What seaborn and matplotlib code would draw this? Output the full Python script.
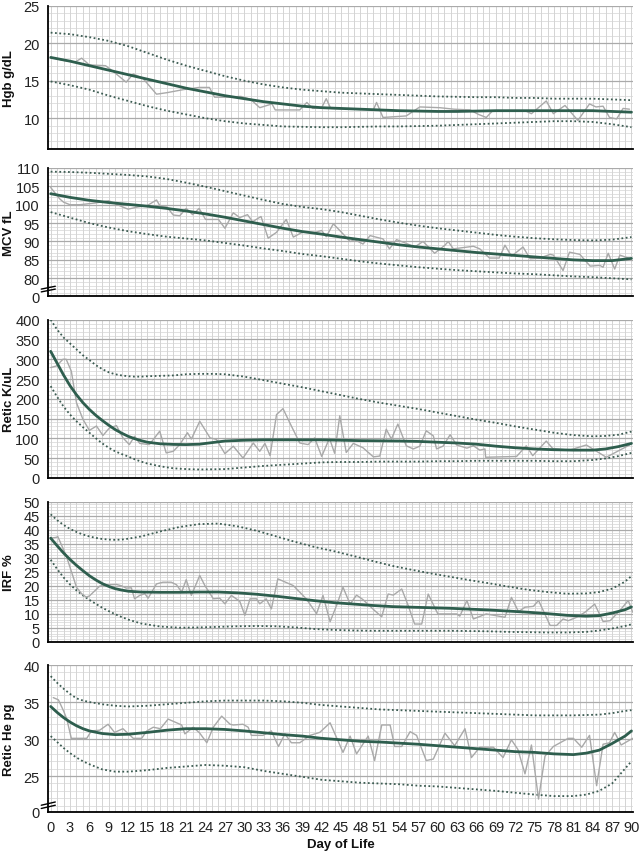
import matplotlib
matplotlib.use("Agg")
import matplotlib.pyplot as plt
import seaborn as sns
from matplotlib.ticker import MultipleLocator

sns.set_style("white")
plt.rcParams['font.family'] = ['Liberation Sans', 'DejaVu Sans']

# ---- Hgb g/dL ----
hgb_fit_days = [0, 3, 6, 9, 12, 15, 18, 21, 24, 27, 30, 33, 36, 39, 42, 45, 48, 51, 54, 57, 60, 63, 66, 69, 72, 75, 78, 81, 84, 87, 90]
hgb_mean = [18.1, 17.6, 17.0, 16.4, 15.8, 15.2, 14.6, 14.0, 13.5, 13.0, 12.6, 12.2, 11.9, 11.6, 11.4, 11.3, 11.2, 11.1, 11.0, 10.95, 10.9, 10.9, 10.95, 11.0, 11.0, 11.0, 11.0, 11.0, 11.0, 10.9, 10.8]
hgb_upper = [21.4, 21.2, 20.8, 20.3, 19.6, 18.7, 17.8, 17.0, 16.3, 15.6, 15.0, 14.5, 14.1, 13.8, 13.6, 13.4, 13.3, 13.2, 13.1, 13.0, 12.9, 12.85, 12.8, 12.8, 12.7, 12.7, 12.6, 12.6, 12.6, 12.5, 12.4]
hgb_lower = [14.9, 14.4, 13.8, 13.0, 12.3, 11.6, 11.0, 10.5, 10.0, 9.6, 9.3, 9.1, 8.9, 8.85, 8.8, 8.8, 8.85, 8.9, 8.9, 8.95, 9.0, 9.1, 9.2, 9.3, 9.4, 9.5, 9.6, 9.6, 9.5, 9.2, 8.8]
hgb_raw_days = [0, 2, 3.8, 4.8, 6, 8.5, 9.6, 11.7, 12.8, 14.3, 16.4, 18, 20.5, 23, 24.6, 25.4, 27, 29.5, 31, 32.4, 34.3, 34.8, 37, 38.6, 39.7, 40.6, 42, 42.7, 43.4, 50, 50.5, 51.5, 55.1, 57.2, 60.3, 62.5, 65, 66.3, 67.5, 68.5, 73.5, 74.5, 76.8, 77.9, 79.7, 81.7, 83.5, 84.5, 85.6, 86.6, 87.7, 88.7, 89.7]
hgb_raw = [18.1, 17.7, 17.5, 18.0, 17.1, 17.0, 16.3, 14.8, 15.9, 15.3, 13.2, 13.4, 13.8, 14.1, 14.1, 12.8, 12.8, 12.9, 12.5, 11.4, 11.9, 11.1, 11.1, 11.1, 12.1, 11.3, 11.4, 12.6, 11.3, 11.1, 12.1, 10.1, 10.3, 11.5, 11.4, 11.2, 11.1, 10.5, 10.1, 11.0, 11.0, 10.6, 12.3, 10.6, 11.7, 9.7, 11.9, 11.5, 11.6, 10.1, 9.9, 11.3, 11.2]

# ---- MCV fL ----
mcv_fit_days = hgb_fit_days
mcv_mean = [103.0, 102.0, 101.2, 100.6, 100.1, 99.6, 99.0, 98.3, 97.5, 96.6, 95.6, 94.6, 93.6, 92.7, 92.0, 91.2, 90.5, 89.8, 89.1, 88.5, 88.0, 87.5, 87.0, 86.6, 86.2, 85.8, 85.4, 85.0, 84.8, 84.8, 85.4]
mcv_upper = [109.0, 108.9, 108.7, 108.4, 108.1, 107.7, 107.0, 106.0, 104.9, 103.7, 102.5, 101.3, 100.2, 99.4, 98.8, 98.0, 97.0, 96.0, 95.1, 94.3, 93.6, 93.0, 92.4, 91.8, 91.3, 90.9, 90.6, 90.4, 90.3, 90.5, 91.2]
mcv_lower = [98.0, 96.5, 95.0, 93.8, 92.8, 92.0, 91.3, 90.8, 90.3, 89.6, 88.9, 88.1, 87.4, 86.6, 86.0, 85.3, 84.6, 84.0, 83.5, 83.0, 82.6, 82.2, 81.9, 81.6, 81.3, 81.1, 80.8, 80.5, 80.3, 80.0, 79.7]
mcv_raw_days = [0, 1.4, 2, 3, 4.5, 7, 9, 11, 12, 13.5, 15, 16.4, 17, 18, 19, 20, 21, 22, 23, 24, 26, 27, 28.3, 29.3, 30.5, 31.3, 32.6, 33.7, 35, 36.5, 37.6, 39, 41, 42, 42.7, 43.8, 44.8, 46.4, 47.1, 48.4, 49.5, 51.5, 52.5, 53.6, 55.1, 56.4, 57.7, 59.5, 61.1, 61.6, 62.4, 65.5, 66.5, 68, 69.5, 70.4, 71.4, 73.2, 74.3, 75.8, 77.4, 77.9, 79.4, 80.4, 82, 83.6, 85.1, 85.6, 86.4, 87.4, 88.2, 89.5]
mcv_raw = [104.7, 101.6, 100.7, 100.0, 100.0, 100.5, 101.1, 99.5, 98.8, 99.4, 99.8, 101.3, 99.5, 99.4, 97.2, 97.0, 99.0, 97.3, 99.0, 96.0, 96.0, 93.6, 97.8, 96.5, 97.3, 95.4, 96.8, 90.9, 92.5, 96.0, 91.2, 92.5, 92.5, 93.0, 91.3, 94.8, 93.0, 90.0, 90.5, 89.3, 91.6, 90.7, 88.0, 90.5, 89.5, 88.5, 90.0, 86.8, 89.0, 90.0, 88.0, 88.7, 88.0, 85.5, 85.5, 89.0, 86.0, 88.5, 85.3, 85.5, 86.5, 86.3, 82.1, 87.1, 86.5, 83.3, 83.5, 83.0, 86.8, 82.5, 86.3, 85.5]

# ---- Retic K/uL ----
ret_fit_days = [0, 1, 2, 3, 4, 5, 6, 7, 8, 9, 10, 11, 12, 13, 14, 15, 17, 19, 21, 23, 25, 27, 30, 33, 36, 39, 42, 45, 48, 51, 54, 57, 60, 63, 66, 69, 72, 75, 78, 81, 84, 86, 88, 90]
ret_mean = [320, 290, 260, 233, 210, 190, 173, 158, 145, 133, 122, 113, 105, 99, 94, 90, 86, 84.5, 84, 85, 89, 93, 95, 96, 96, 96, 96, 95, 94, 93.5, 93, 92, 90, 88, 85, 80, 76, 73, 71, 70, 70, 73, 79, 87]
ret_upper = [400, 375, 355, 340, 325, 310, 298, 285, 275, 267, 262, 259, 257, 256, 256, 257, 258, 259, 262, 263, 263, 262, 256, 247, 238, 229, 219, 209, 199, 190, 182, 174, 165, 156, 147, 139, 130, 122, 114, 108, 105, 106, 109, 117]
ret_lower = [232, 205, 180, 160, 143, 128, 114, 100, 87, 76, 67, 60, 54, 47, 41, 36, 29, 24, 22, 21, 21.5, 22, 26, 30, 33, 36, 39, 40, 40, 41, 41, 41, 42, 42, 43, 43, 43, 43, 42, 42, 45, 49, 55, 63]
ret_raw_days = [0, 0.9, 1.9, 2.4, 3.2, 4, 5, 6, 7.1, 8.1, 9.1, 10.2, 11.2, 12.2, 13, 13.8, 15.3, 16.9, 17.9, 19, 20, 21.2, 21.8, 23.1, 24.7, 25.7, 27, 28.3, 29.8, 31.4, 32.4, 33.2, 34, 35, 36, 37.3, 38.6, 39.9, 40.9, 42, 43.2, 44, 44.8, 45.8, 46.9, 48.4, 50, 51, 52, 52.8, 53.8, 55.1, 56.2, 57.2, 58.2, 59.3, 59.8, 60.8, 61.9, 62.9, 64.5, 65.5, 66.5, 67.3, 67.4, 72.2, 73.7, 74.7, 76.8, 77.8, 80.4, 83, 86.1, 89.7]
ret_raw = [279, 283, 300, 300, 270, 190, 148, 120, 131, 107, 126, 132, 101, 84, 105, 87, 84, 118, 63, 67, 84, 114, 98, 143, 101, 97, 61, 80, 50, 88, 67, 87, 56, 160, 175, 131, 88, 84, 101, 54, 100, 62, 157, 64, 87, 76, 53, 55, 123, 98, 136, 81, 73, 80, 119, 106, 73, 80, 109, 83, 75, 81, 70, 73, 52, 54, 81, 56, 93, 74, 70, 83, 52, 83]

# ---- IRF % ----
irf_fit_days = [0, 1, 2, 3, 4, 5, 6, 7, 8, 9, 10, 11, 12, 14, 17, 20, 23, 26, 29, 32, 35, 38, 41, 44, 47, 50, 53, 56, 59, 62, 65, 68, 71, 74, 77, 80, 83, 85, 87, 89, 90]
irf_mean = [37, 34.3, 31.7, 29.4, 27.3, 25.4, 23.6, 22.1, 20.8, 19.8, 19.0, 18.5, 18.1, 17.8, 17.7, 17.7, 17.8, 17.8, 17.5, 17.0, 16.3, 15.5, 14.7, 14.0, 13.5, 13.0, 12.6, 12.4, 12.2, 12.0, 11.7, 11.4, 11.0, 10.6, 10.1, 9.5, 9.2, 9.4, 10.3, 11.5, 12.5]
irf_upper = [45.5, 43.4, 41.7, 40.3, 39.2, 38.3, 37.6, 37.1, 36.7, 36.5, 36.4, 36.5, 36.8, 37.6, 39.4, 41.0, 42.0, 42.2, 41.2, 39.6, 37.6, 35.6, 33.8, 32.3, 30.6, 28.8, 27.1, 25.7, 24.4, 23.2, 22.0, 20.9, 19.7, 18.6, 17.8, 17.2, 17.3, 17.8, 19.0, 21.5, 23.5]
irf_lower = [29.3, 26.0, 23.0, 20.5, 18.4, 16.6, 15.0, 13.6, 12.2, 11.0, 9.9, 8.9, 8.0, 6.6, 5.5, 5.1, 5.2, 5.4, 5.6, 5.7, 5.6, 5.2, 4.6, 4.3, 4.1, 4.0, 4.0, 4.0, 4.0, 4.0, 3.9, 3.8, 3.6, 3.5, 3.4, 3.4, 3.6, 4.1, 4.8, 5.7, 6.3]
irf_raw_days = [0, 0.9, 1.1, 2.4, 3.5, 4, 4.8, 5.5, 6, 7.6, 8.6, 10.2, 11, 11.7, 12.5, 13, 13.8, 14.6, 15.1, 16.4, 17.4, 18.7, 19.5, 20.3, 21, 21.8, 23.1, 23.9, 25.2, 26.2, 27, 28, 29.3, 30.1, 30.9, 31.9, 32.4, 33.4, 34.2, 35.2, 37.6, 39.6, 41.2, 42.2, 43.3, 44.3, 45.3, 46.4, 47.4, 48.4, 50.2, 51.3, 52.3, 53.1, 54.4, 55.4, 56.4, 57.5, 58.5, 60, 62.9, 63.4, 64.5, 65.5, 67.5, 70.4, 71.4, 72.5, 73.5, 74.8, 75.6, 77.4, 78.4, 79.4, 80.2, 81.5, 82.8, 84.3, 85.6, 86.7, 88.2, 89.5, 90.2]
irf_raw = [37, 37.3, 37.6, 30.8, 23.1, 19.5, 17.2, 16.0, 16.4, 19.9, 20.4, 20.5, 20.0, 19.2, 19.3, 15.4, 16.6, 17.2, 15.6, 20.7, 21.3, 21.3, 20.4, 17.8, 22.2, 16.6, 23.7, 20.1, 15.4, 15.6, 13.6, 16.6, 14.5, 9.5, 15.4, 15.4, 13.6, 15.4, 11.8, 22.5, 20.1, 15.4, 10.1, 16.6, 7.2, 13.0, 19.5, 13.5, 16.7, 15.1, 11.2, 9.0, 17.1, 16.7, 18.9, 13.0, 6.4, 6.4, 17.1, 10.0, 10.0, 9.2, 14.8, 8.2, 10.0, 8.8, 15.9, 10.8, 12.4, 12.7, 14.8, 5.9, 5.9, 8.2, 7.6, 8.8, 10.6, 13.5, 7.3, 7.6, 11.2, 14.8, 10.6]

# ---- Retic He pg ----
he_fit_days = [0, 1, 2, 3, 4, 5, 6, 8, 10, 12, 15, 18, 21, 24, 27, 30, 33, 36, 39, 42, 45, 48, 51, 54, 57, 60, 63, 66, 69, 72, 75, 78, 81, 83, 85, 87, 89, 90]
he_mean = [34.4, 33.6, 32.9, 32.3, 31.8, 31.4, 31.1, 30.75, 30.6, 30.65, 30.9, 31.2, 31.4, 31.4, 31.3, 31.1, 30.85, 30.6, 30.4, 30.1, 29.9, 29.7, 29.6, 29.45, 29.3, 29.1, 28.9, 28.7, 28.5, 28.3, 28.2, 28.0, 27.9, 28.1, 28.5, 29.4, 30.4, 31.1]
he_upper = [38.5, 37.6, 36.8, 36.1, 35.5, 35.2, 35.0, 34.7, 34.5, 34.4, 34.5, 34.7, 34.9, 35.1, 35.2, 35.2, 35.2, 35.1, 34.9, 34.6, 34.4, 34.2, 34.0, 33.9, 33.8, 33.7, 33.6, 33.5, 33.4, 33.3, 33.2, 33.2, 33.2, 33.25, 33.3, 33.5, 33.8, 33.9]
he_lower = [30.4, 29.6, 28.8, 28.1, 27.5, 27.0, 26.6, 25.9, 25.6, 25.6, 25.8, 26.1, 26.3, 26.5, 26.4, 26.2, 25.7, 25.3, 24.9, 24.5, 24.3, 24.1, 24.0, 23.9, 23.7, 23.6, 23.4, 23.2, 23.0, 22.75, 22.5, 22.3, 22.3, 22.5, 23.0, 24.0, 26.0, 27.0]
he_raw_days = [0.4, 1.2, 2, 2.5, 3.2, 4, 5.6, 6.3, 7.6, 8.9, 9.9, 11.2, 12.8, 14.1, 14.9, 15.9, 17, 18.2, 20.3, 20.8, 22.1, 23.1, 24.2, 25.2, 26.5, 27.8, 28.3, 29.8, 30.6, 31.1, 32.9, 34.2, 35.3, 36.3, 37.3, 38.6, 40.2, 41.7, 43.3, 45.3, 46.4, 47.4, 49.2, 50.2, 51.3, 52.6, 53.3, 54.4, 55.7, 56.7, 58.2, 59.3, 61.1, 62.6, 64.2, 65.2, 66.5, 68.6, 70.1, 71.4, 72.4, 73.5, 74.5, 75.6, 76.6, 77.9, 80.2, 81, 82.3, 83.5, 84.6, 85.6, 86.6, 87.4, 88.4, 90.2]
he_raw = [35.6, 35.3, 33.8, 32.7, 30.1, 30.1, 30.1, 31.1, 31.2, 32.0, 30.9, 31.4, 30.1, 30.1, 31.1, 31.6, 31.4, 32.7, 31.9, 30.7, 31.6, 30.8, 29.5, 31.6, 33.1, 32.0, 31.9, 32.0, 31.6, 30.5, 30.5, 31.1, 29.0, 30.7, 29.5, 29.5, 30.5, 30.9, 32.2, 28.2, 30.4, 28.0, 30.4, 27.1, 31.9, 31.9, 29.0, 29.0, 31.0, 30.5, 27.1, 27.3, 30.8, 29.1, 31.4, 27.5, 28.9, 28.9, 27.5, 29.9, 28.6, 25.3, 29.2, 21.9, 27.7, 29.0, 30.1, 30.1, 28.9, 30.5, 23.7, 29.3, 29.5, 30.9, 29.2, 30.1]

# axis setup for each panel (broken axes: the "0" label sits at the axis bottom)
panels = [
    dict(label='Hgb g/dL', fit=hgb_fit_days, mean=hgb_mean, up=hgb_upper, lo=hgb_lower,
         rd=hgb_raw_days, rv=hgb_raw, ylim=(5.9, 25), ticks=[10, 15, 20, 25], labels=None,
         minor=1, brk=None, box=[0.0752, 0.8242, 0.9114, 0.1680]),
    dict(label='MCV fL', fit=mcv_fit_days, mean=mcv_mean, up=mcv_upper, lo=mcv_lower,
         rd=mcv_raw_days, rv=mcv_raw, ylim=(75.1, 110), ticks=[75.1, 80, 85, 90, 95, 100, 105, 110],
         labels=['0', '80', '85', '90', '95', '100', '105', '110'],
         minor=1, brk=0.045, box=[0.0752, 0.6515, 0.9114, 0.1504]),
    dict(label='Retic K/uL', fit=ret_fit_days, mean=ret_mean, up=ret_upper, lo=ret_lower,
         rd=ret_raw_days, rv=ret_raw, ylim=(0, 400), ticks=list(range(0, 401, 50)), labels=None,
         minor=10, brk=None, box=[0.0752, 0.4387, 0.9114, 0.1853]),
    dict(label='IRF %', fit=irf_fit_days, mean=irf_mean, up=irf_upper, lo=irf_lower,
         rd=irf_raw_days, rv=irf_raw, ylim=(0, 50), ticks=list(range(0, 51, 5)), labels=None,
         minor=1, brk=None, box=[0.0752, 0.2462, 0.9114, 0.1645]),
    dict(label='Retic He pg', fit=he_fit_days, mean=he_mean, up=he_upper, lo=he_lower,
         rd=he_raw_days, rv=he_raw, ylim=(20.15, 40), ticks=[20.15, 25, 30, 35, 40],
         labels=['0', '25', '30', '35', '40'],
         minor=1, brk=0.035, box=[0.0752, 0.0469, 0.9114, 0.1723]),
]

green = '#2e5e4e'
dotc = '#3c5c52'
W, H = 642, 853
fig = plt.figure(figsize=(W / 100, H / 100), dpi=100)

for i, p in enumerate(panels):
    ax = fig.add_axes(p['box'])
    sns.lineplot(x=p['fit'], y=p['up'], ax=ax, color=dotc, lw=1.3, linestyle=(0, (1, 1.4)))
    sns.lineplot(x=p['fit'], y=p['lo'], ax=ax, color=dotc, lw=1.3, linestyle=(0, (1, 1.4)))
    sns.lineplot(x=p['rd'], y=p['rv'], ax=ax, color='#a9a9a9', lw=1.0)
    sns.lineplot(x=p['fit'], y=p['mean'], ax=ax, color=green, lw=2.0)

    ax.set_xlim(-0.37, 90.3)
    ax.set_ylim(*p['ylim'])
    ax.xaxis.set_major_locator(MultipleLocator(3))
    ax.xaxis.set_minor_locator(MultipleLocator(1))
    ax.set_yticks(p['ticks'])
    if p['labels']:
        ax.set_yticklabels(p['labels'])
    ax.yaxis.set_minor_locator(MultipleLocator(p['minor']))

    ax.set_axisbelow(True)
    ax.grid(which='major', axis='y', color='#aaaaaa', lw=0.9)
    ax.grid(which='minor', axis='y', color='#d4d4d4', lw=0.5)
    ax.grid(which='both', axis='x', color='#cdcdcd', lw=0.6)

    for s in ['top', 'right']:
        ax.spines[s].set_visible(False)
    for s in ['left', 'bottom']:
        ax.spines[s].set_color('black')
        ax.spines[s].set_linewidth(1.3)

    ax.tick_params(axis='x', which='both', direction='out', length=3, width=0.8,
                   color='black', labelsize=10.5, labelcolor='#222222', pad=3)
    ax.tick_params(axis='y', which='major', direction='out', length=4, width=0.8,
                   color='black', labelsize=10.5, labelcolor='#222222', pad=2)
    ax.tick_params(axis='y', which='minor', length=0)

    ax.set_xlabel('')
    ax.set_ylabel('')
    if i < len(panels) - 1:
        ax.set_xticklabels([])

    # y label centred in the left margin
    b = p['box']
    fig.text(9 / W, b[1] + b[3] / 2, p['label'], rotation=90, ha='center', va='center',
             fontsize=9.5, fontweight='bold', color='#111111')

    if p['brk'] is not None:
        yb = p['brk']
        for off in (0.0, 0.022):
            ax.plot([-0.012, 0.012], [yb + off - 0.011, yb + off + 0.011],
                    transform=ax.transAxes, color='black', lw=1.0, clip_on=False)

fig.text(340.5 / W, 1 - 845 / H, 'Day of Life', ha='center', va='center',
         fontsize=9.5, fontweight='bold', color='#111111')

fig.savefig('out.png', dpi=100)
